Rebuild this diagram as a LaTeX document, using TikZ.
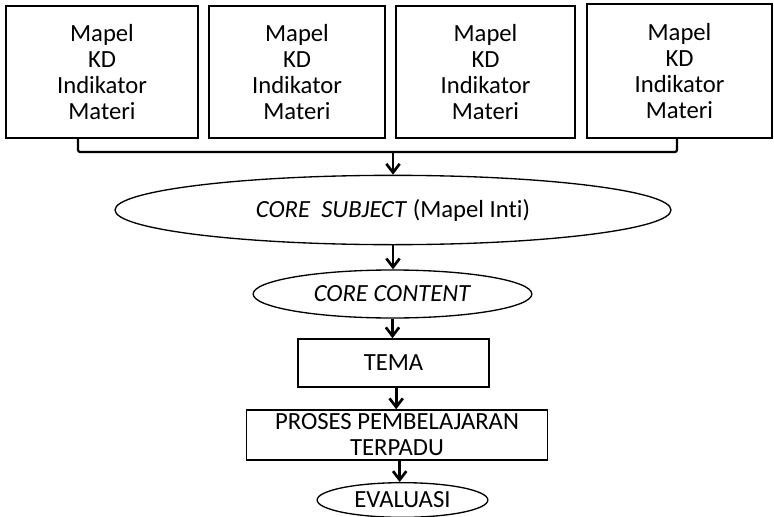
\documentclass[tikz,border=0pt]{standalone}
\usepackage{fontspec}
\setmainfont{Carlito}[Ligatures=NoCommon]
\usetikzlibrary{shapes.geometric,arrows.meta}
\tikzset{
	mapelbox/.style={draw,line width=1.2pt,minimum height=99pt,inner sep=0pt,align=center},
	oval/.style={draw,ellipse,line width=1pt,inner sep=0pt},
	stepbox/.style={draw,line width=1.2pt,inner sep=0pt,align=center},
	arr/.style={line width=2pt,-{Straight Barb[length=6.5pt,width=10pt]}},
	bracket/.style={line width=1.6pt,rounded corners=1.5pt}
}
\begin{document}
\begin{tikzpicture}[x=0.75pt,y=-0.75pt,font=\fontsize{18.5}{19.5}\selectfont]
	\useasboundingbox (0,0) rectangle (774,517);
	\node[mapelbox,minimum width=144pt] at (102,72) (mapel1) {Mapel\\KD\\Indikator\\Materi};
	\node[mapelbox,minimum width=132pt] at (297,72) (mapel2) {Mapel\\KD\\Indikator\\Materi};
	\node[mapelbox,minimum width=134pt] at (485.5,72) (mapel3) {Mapel\\KD\\Indikator\\Materi};
	\node[mapelbox,minimum width=138.75pt,minimum height=100.5pt] at (679.5,71) (mapel4) {Mapel\\KD\\Indikator\\Materi};
	\coordinate (join) at (393,152);
	\node[oval,minimum width=417pt,minimum height=52pt] at (393,210) (subject) {\textit{CORE\ \ SUBJECT} (Mapel Inti)};
	\node[oval,minimum width=209pt,minimum height=36pt] at (392.5,294) (content) {\textit{CORE CONTENT}};
	\node[stepbox,minimum width=143pt,minimum height=36pt] at (393.5,363) (tema) {TEMA};
	\node[stepbox,minimum width=226pt,minimum height=37.5pt] at (397,435) (proses) {PROSES PEMBELAJARAN\\TERPADU};
	\node[oval,minimum width=128pt,minimum height=26pt] at (402.5,500) (evaluasi) {EVALUASI};
	\draw[bracket] ([xshift=-18pt]mapel1.south) |- (join) -| ([xshift=-1.9pt]mapel4.south);
	\draw[arr] (join) -- (join |- subject.north);
	\draw[arr] (subject.south) -- (subject.south |- content.north);
	\draw[arr] (content.south) -- (content.south |- tema.north);
	\draw[arr] ([xshift=2pt]tema.south) -- ([xshift=2pt]tema.south |- proses.north);
	\draw[arr] ([xshift=2pt]proses.south) -- ([xshift=2pt]proses.south |- evaluasi.north);
\end{tikzpicture}
\end{document}
